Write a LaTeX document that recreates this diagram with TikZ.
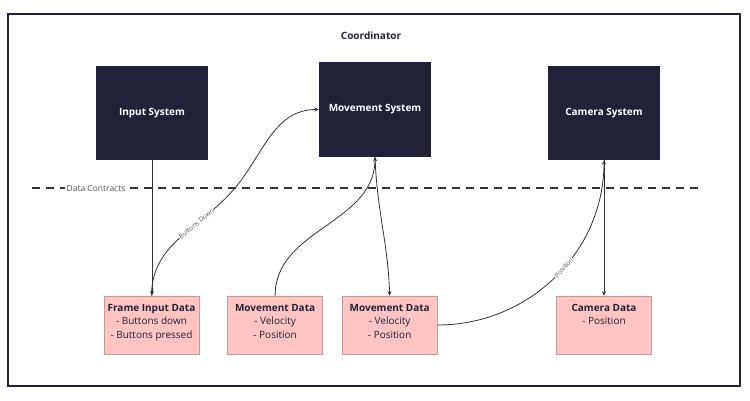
\documentclass[tikz,border=0pt]{standalone}
\usepackage{fontspec}
\setmainfont{Open Sans}
\usepackage{tikz}
\usetikzlibrary{positioning, arrows.meta}
\definecolor{sysnavy}{RGB}{33,34,56}
\definecolor{datapink}{RGB}{255,196,196}
\definecolor{databorder}{RGB}{196,156,156}
\definecolor{flowgray}{RGB}{51,51,51}
\definecolor{notegray}{RGB}{85,85,85}
\newcommand{\datatext}[2]{\parbox[c][42pt][t]{94pt}{\centering\textbf{#1}\\#2}}
\tikzset{
  sysbox/.style = {rectangle, fill=sysnavy, draw=none, minimum width=112pt,
                   minimum height=94pt, text=white, align=center,
                   font=\fontsize{10}{12}\selectfont\bfseries},
  databox/.style = {rectangle, draw=databorder, fill=datapink, line width=0.6pt,
                    minimum width=95pt, minimum height=58pt, inner sep=0pt,
                    text=sysnavy, font=\fontsize{10}{13.5}\selectfont},
  flowarrow/.style = {-{Stealth[length=4.5pt,width=4pt]}, draw=flowgray, line width=0.8pt},
  flowlabel/.style = {font=\fontsize{6.5}{7}\selectfont, text=notegray, fill=white,
                      inner sep=0.6pt, sloped}
}

\begin{document}
\begin{tikzpicture}[x=1pt, y=1pt, node distance=28pt]
\useasboundingbox (0,0) rectangle (750,400);
\node[draw=sysnavy, line width=1.8pt, minimum width=732pt, minimum height=372pt,
      inner sep=0pt] (frame) at (374,200) {};
\node[font=\fontsize{10}{12}\selectfont\bfseries, text=sysnavy] (title) at (371,364.5) {Coordinator};

\node[sysbox] (inp) at (152,287) {Input System};
\node[sysbox] (mov) at (375,290.5) {Movement System};
\node[sysbox] (cam) at (604,287) {Camera System};

\node[databox] (fid) at (151.5,75) {\datatext{Frame Input Data}{- Buttons down\\- Buttons pressed}};
\node[databox, right=28pt of fid] (md1) {\datatext{Movement Data}{- Velocity\\- Position}};
\node[databox, right=19pt of md1] (md2) {\datatext{Movement Data}{- Velocity\\- Position}};
\node[databox] (cdata) at (604,75) {\datatext{Camera Data}{- Position}};

\coordinate (dl) at (32,212);
\coordinate (dr) at (700,212);
\draw[flowgray, line width=1.6pt, dash pattern=on 8pt off 6pt] (dl) -- (dr);
\node[font=\fontsize{8.5}{10}\selectfont, text=notegray, fill=white, inner sep=1.5pt] (dc) at (96,212) {Data Contracts};

\coordinate (bend) at (235,212);
\draw[flowarrow] (inp.south) -- (inp.south |- fid.north);
\draw[flowarrow] (fid.north) to[out=90, in=-130] node[flowlabel, pos=0.65] {Buttons Down} (bend)
                 to[out=50, in=180] (mov.west);
\draw[flowarrow] (md1.north) to[out=90, in=-90] (mov.south);
\draw[flowarrow] (mov.south) to[out=-88, in=92] (md2.north);
\draw[flowarrow] (md2.east) to[out=0, in=-90] node[flowlabel, pos=0.55] {Position} (cam.south);
\draw[flowarrow] (cam.south) -- (cdata.north);
\end{tikzpicture}
\end{document}
